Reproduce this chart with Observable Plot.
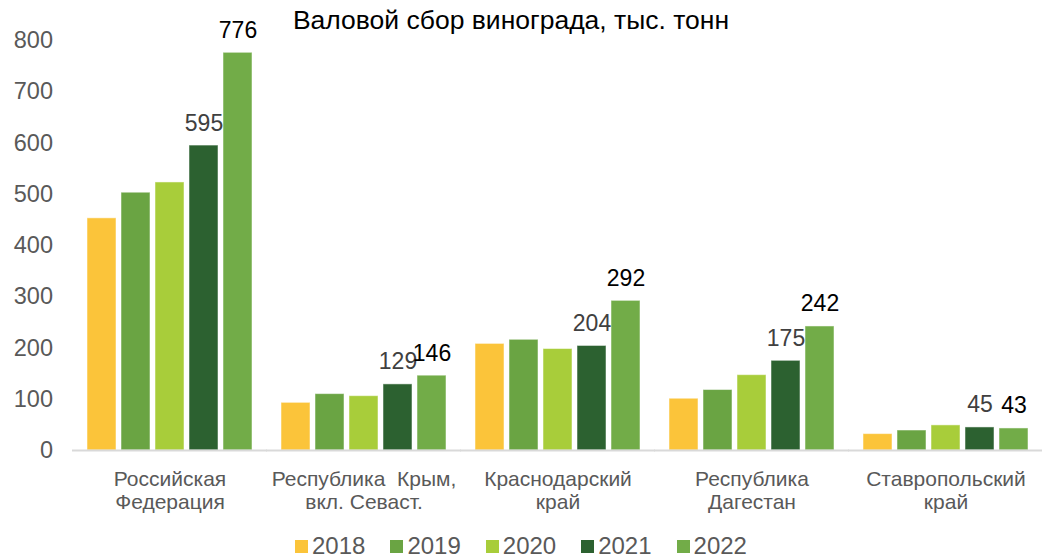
<!DOCTYPE html>
<html>
<head>
<meta charset="utf-8">
<script src="https://cdn.jsdelivr.net/npm/d3@7"></script>
<script src="https://cdn.jsdelivr.net/npm/@observablehq/plot@0.6"></script>
<style>
  html, body { margin: 0; padding: 0; background: #fff; overflow: hidden; }
  #wrap { position: relative; width: 1042px; height: 558px; font-family: "Liberation Sans", Arial, sans-serif; }
  #title { position: absolute; left: 0; top: 4px; width: 1022px; text-align: center; font-size: 26.5px; line-height: 32px; color: #000; }
  #chart { position: absolute; left: 0; top: 0; }
  #legend { position: absolute; left: 295px; top: 534px; height: 24px; display: flex; align-items: center; font-size: 24px; line-height: 24px; color: #595959; }
  .item { display: flex; align-items: center; margin-right: 25px; }
  .sw { width: 13px; height: 13px; margin-right: 4px; }
</style>
</head>
<body>
<div id="wrap">
  <div id="chart"></div>
  <div id="title">Валовой сбор винограда, тыс. тонн</div>
  <div id="legend"></div>
</div>
<script>
const regions = ["Российская\nФедерация", "Республика  Крым,\nвкл. Севаст.", "Краснодарский\nкрай", "Республика\nДагестан", "Ставропольский\nкрай"];
const years = ["2018", "2019", "2020", "2021", "2022"];
const colors = ["#FBC43A", "#6AA443", "#A8CD3A", "#2C6130", "#72AC48"];
const v2018 = [453, 93, 208, 101, 32];
const v2019 = [503, 110, 216, 118, 39];
const v2020 = [523, 106, 198, 147, 49];
const v2021 = [595, 129, 204, 175, 45];
const v2022 = [776, 146, 292, 242, 43];
const yTicks = [0, 100, 200, 300, 400, 500, 600, 700, 800];
const labeledYears = ["2021", "2022"];

const series = [v2018, v2019, v2020, v2021, v2022];
const data = [];
regions.forEach((r, i) => years.forEach((y, j) => data.push({region: r, year: y, value: series[j][i]})));

const chart = Plot.plot({
  width: 1042,
  height: 530,
  marginLeft: 72,
  marginRight: 0,
  marginTop: 40,
  marginBottom: 80,
  style: {fontFamily: "Liberation Sans, Arial, sans-serif", background: "transparent"},
  fx: {domain: regions, paddingInner: 0.15, paddingOuter: 0.075, axis: null},
  x: {domain: years, paddingInner: 0.15, paddingOuter: 0, axis: null},
  y: {domain: [0, 800], label: null, axis: null},
  color: {domain: years, range: colors},
  marks: [
    // y tick labels, drawn in the first facet only, positioned via the y scale
    Plot.text(yTicks, {
      fx: () => regions[0], y: d => d, text: d => String(d),
      frameAnchor: "left", textAnchor: "end", dx: -34.5,
      fontSize: 23.5, fill: "#595959"
    }),
    Plot.barY(data, {fx: "region", x: "year", y: "value", fill: "year", stroke: "#ffffff", strokeOpacity: 0.5, strokeWidth: 1}),
    Plot.ruleY([0], {stroke: "#d9d9d9", strokeWidth: 2, insetLeft: -15, insetRight: -15}),
    Plot.text(data.filter(d => labeledYears.includes(d.year)), {
      fx: "region", x: "year", y: "value", text: d => String(d.value),
      lineAnchor: "bottom", dy: -15, fontSize: 23,
      fill: d => d.year === "2021" ? "#404040" : "#000000"
    }),
    Plot.text(regions, {
      fx: d => d, text: d => d, frameAnchor: "bottom", lineAnchor: "top",
      dy: 20, fontSize: 21, lineHeight: 1.07, fill: "#595959"
    })
  ]
});
document.getElementById("chart").appendChild(chart);

const legend = document.getElementById("legend");
years.forEach((y, i) => {
  const item = document.createElement("div");
  item.className = "item";
  const sw = document.createElement("div");
  sw.className = "sw";
  sw.style.background = colors[i];
  const t = document.createElement("span");
  t.textContent = y;
  item.appendChild(sw);
  item.appendChild(t);
  legend.appendChild(item);
});
</script>
</body>
</html>
